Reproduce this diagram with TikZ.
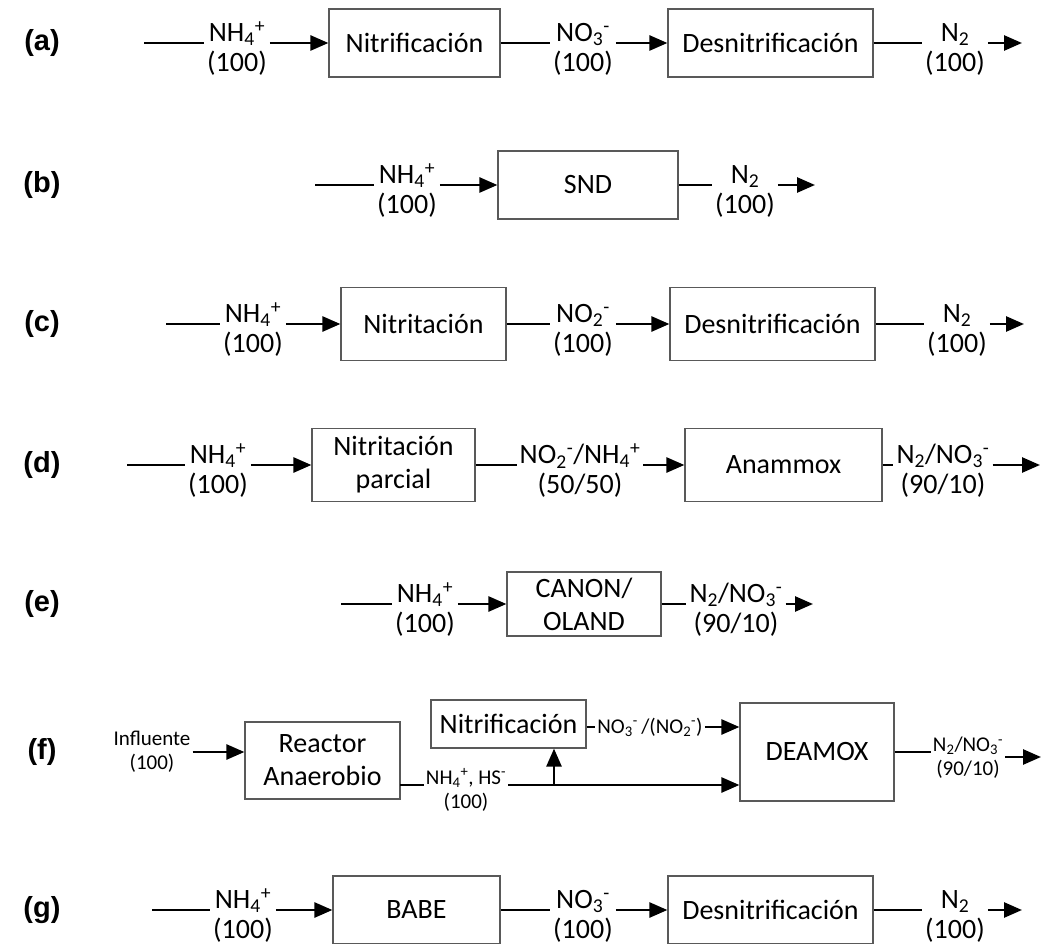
\documentclass[tikz,border=0pt]{standalone}
\usepackage{fontspec}
\setmainfont{Carlito}
\newfontfamily\tagfont{Liberation Sans}
\usetikzlibrary{arrows.meta}
\newcommand{\ammon}{NH\textsubscript{4}\textsuperscript{+}}
\newcommand{\nitrate}{NO\textsubscript{3}\textsuperscript{-}}
\newcommand{\nitrite}{NO\textsubscript{2}\textsuperscript{-}}
\newcommand{\dinit}{N\textsubscript{2}}

\tikzset{
  proc/.style={draw=black!65, line width=1.2pt, align=center, inner sep=0pt,
    font=\fontsize{28}{33}\selectfont},
  flux/.style={align=center, inner xsep=3pt, inner ysep=0pt,
    font=\fontsize{28}{30}\selectfont},
  fluxs/.style={align=center, inner xsep=2pt, inner ysep=0pt,
    font=\fontsize{21}{24}\selectfont},
  plain/.style={line width=2.6pt},
  feed/.style={line width=2.6pt, -{Triangle[length=18pt,width=15pt]}},
  tag/.style={font=\tagfont\bfseries\fontsize{29}{32}\selectfont}
}

\begin{document}
\begin{tikzpicture}[x=1pt,y=-1pt]
    \useasboundingbox (0,0) rectangle (1041,944);
    \clip (0,0) rectangle (1041,944);

    % Row labels
    \foreach \t/\y in {a/43,b/185,c/324,d/465,e/604,f/752,g/910}
        \node[tag] (tag-\t) at (42,\y) {(\t)};

    % (a) Nitrificacion + desnitrificacion
    \coordinate (a-in) at (144,43);
    \node[flux] (a-l0) at (237,49) {\ammon\\(100)};
    \node[proc, minimum width=171pt, minimum height=68pt] (a-b1) at (414.5,43) {Nitrificación};
    \node[flux] (a-l1) at (583,49) {\nitrate\\(100)};
    \node[proc, minimum width=205pt, minimum height=68pt] (a-b2) at (770.5,43) {Desnitrificación};
    \node[flux] (a-l2) at (955,49) {\dinit\\(100)};
    \coordinate (a-out) at (1022,43);
    \foreach \p/\q in {a-in/a-l0, a-b1/a-l1, a-b2/a-l2}
        \draw[plain] (a-in -| \p.east) -- (a-in -| \q.west);
    \foreach \p/\q in {a-l0/a-b1, a-l1/a-b2, a-l2/a-out}
        \draw[feed] (a-in -| \p.east) -- (a-in -| \q.west);

    % (b) SND
    \coordinate (b-in) at (315,185);
    \node[flux] (b-l0) at (407,191) {\ammon\\(100)};
    \node[proc, minimum width=180pt, minimum height=68pt] (b-b1) at (588,185) {SND};
    \node[flux] (b-l1) at (745,191) {\dinit\\(100)};
    \coordinate (b-out) at (815,185);
    \foreach \p/\q in {b-in/b-l0, b-b1/b-l1}
        \draw[plain] (b-in -| \p.east) -- (b-in -| \q.west);
    \foreach \p/\q in {b-l0/b-b1, b-l1/b-out}
        \draw[feed] (b-in -| \p.east) -- (b-in -| \q.west);

    % (c) Nitritacion + desnitrificacion
    \coordinate (c-in) at (166,324);
    \node[flux] (c-l0) at (253,330) {\ammon\\(100)};
    \node[proc, minimum width=165pt, minimum height=73pt] (c-b1) at (423.5,324) {Nitritación};
    \node[flux] (c-l1) at (583,330) {\nitrite\\(100)};
    \node[proc, minimum width=205pt, minimum height=73pt] (c-b2) at (772.5,324) {Desnitrificación};
    \node[flux] (c-l2) at (957,330) {\dinit\\(100)};
    \coordinate (c-out) at (1024,324);
    \foreach \p/\q in {c-in/c-l0, c-b1/c-l1, c-b2/c-l2}
        \draw[plain] (c-in -| \p.east) -- (c-in -| \q.west);
    \foreach \p/\q in {c-l0/c-b1, c-l1/c-b2, c-l2/c-out}
        \draw[feed] (c-in -| \p.east) -- (c-in -| \q.west);

    % (d) Nitritacion parcial + anammox
    \coordinate (d-in) at (127,465);
    \node[flux] (d-l0) at (218,471) {\ammon\\(100)};
    \node[proc, minimum width=163pt, minimum height=73pt] (d-b1) at (393.5,465) {Nitritación\\parcial};
    \node[flux] (d-l1) at (580,471) {\nitrite/\ammon\\(50/50)};
    \node[proc, minimum width=197pt, minimum height=73pt] (d-b2) at (783.5,465) {Anammox};
    \node[flux] (d-l2) at (943,471) {\dinit/\nitrate\\(90/10)};
    \coordinate (d-out) at (1040,465);
    \foreach \p/\q in {d-in/d-l0, d-b1/d-l1, d-b2/d-l2}
        \draw[plain] (d-in -| \p.east) -- (d-in -| \q.west);
    \foreach \p/\q in {d-l0/d-b1, d-l1/d-b2, d-l2/d-out}
        \draw[feed] (d-in -| \p.east) -- (d-in -| \q.west);

    % (e) CANON / OLAND
    \coordinate (e-in) at (341,604);
    \node[flux] (e-l0) at (425,610) {\ammon\\(100)};
    \node[proc, minimum width=154pt, minimum height=64pt] (e-b1) at (584,604) {CANON/\\OLAND};
    \node[flux] (e-l1) at (736,610) {\dinit/\nitrate\\(90/10)};
    \coordinate (e-out) at (813,604);
    \foreach \p/\q in {e-in/e-l0, e-b1/e-l1}
        \draw[plain] (e-in -| \p.east) -- (e-in -| \q.west);
    \foreach \p/\q in {e-l0/e-b1, e-l1/e-out}
        \draw[feed] (e-in -| \p.east) -- (e-in -| \q.west);

    % (f) Reactor anaerobio + nitrificacion + DEAMOX
    \node[fluxs] (f-in) at (152,752) {Influente\\(100)};
    \node[proc, minimum width=155pt, minimum height=77pt] (f-b1) at (322.5,760.5) {Reactor\\Anaerobio};
    \node[proc, minimum width=155pt, minimum height=48pt] (f-b2) at (508.5,724) {Nitrificación};
    \node[proc, minimum width=154pt, minimum height=98pt] (f-b3) at (817,752) {DEAMOX};
    \node[fluxs] (f-l1) at (466,790) {\ammon, HS\textsuperscript{-}\\(100)};
    \node[fluxs] (f-l2) at (650,727) {\nitrate\,/(\nitrite)};
    \node[fluxs] (f-l3) at (968,758) {\dinit/\nitrate\\(90/10)};
    \coordinate (f-flow) at (400,785);
    \coordinate (f-br) at (554,785);
    \coordinate (f-out) at (1041,757);
    \draw[feed] (f-in.east) -- (f-in.east -| f-b1.west);
    \draw[plain] (f-flow) -- (f-flow -| f-l1.west);
    \draw[feed] (f-flow -| f-l1.east) -- (f-flow -| f-b3.west);
    \draw[feed] (f-br) -- (f-br |- f-b2.south);
    \draw[line width=1.8pt] (f-b2.east |- f-l2) -- (f-l2.west);
    \draw[feed] (f-l2.east) -- (f-l2 -| f-b3.west);
    \draw[plain] (f-b3.east) -- (f-b3 -| f-l3.west);
    \draw[feed] (f-out -| f-l3.east) -- (f-out);

    % (g) BABE + desnitrificacion
    \coordinate (g-in) at (152,910);
    \node[flux] (g-l0) at (243,916) {\ammon\\(100)};
    \node[proc, minimum width=167pt, minimum height=68pt] (g-b1) at (416.5,910) {BABE};
    \node[flux] (g-l1) at (583,916) {\nitrate\\(100)};
    \node[proc, minimum width=205pt, minimum height=68pt] (g-b2) at (770.5,910) {Desnitrificación};
    \node[flux] (g-l2) at (955,916) {\dinit\\(100)};
    \coordinate (g-out) at (1022,910);
    \foreach \p/\q in {g-in/g-l0, g-b1/g-l1, g-b2/g-l2}
        \draw[plain] (g-in -| \p.east) -- (g-in -| \q.west);
    \foreach \p/\q in {g-l0/g-b1, g-l1/g-b2, g-l2/g-out}
        \draw[feed] (g-in -| \p.east) -- (g-in -| \q.west);

\end{tikzpicture}
\end{document}
